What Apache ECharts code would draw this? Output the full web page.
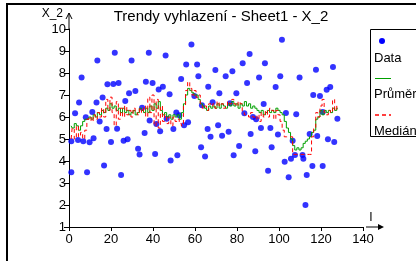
<!DOCTYPE html>
<html>
<head>
<meta charset="utf-8">
<script src="https://cdn.jsdelivr.net/npm/echarts@6/dist/echarts.min.js"></script>
<style>html,body{margin:0;padding:0;background:#fff}#c{width:416px;height:261px}</style>
</head>
<body>
<div id="c"></div>
<script>
// Data points (index I, value X_2)
var dataX = [1.1,1.1,2.9,4.3,4.8,6,6.8,8,8.6,9.8,11.1,11.7,13.1,13.5,14.6,16,16.7,17.9,18.3,20,21.1,21.8,22.9,23.6,24.8,26,26.8,27.9,28.6,29.8,31.6,32.9,33.6,34.8,36,36.6,38,38.4,39.8,41,41.6,42.7,43.4,44.7,46,46.5,47.9,48.4,49.7,51.1,51.6,52.5,53.4,54.8,55.8,56.7,58.3,59.7,61,61.6,62.9,63.3,64.8,66,66.3,67.4,68.4,69.7,71,71.6,72.9,74.6,76,76.7,77.8,78.4,79.7,81,82.7,83.5,84.8,86,86.5,87.6,88.7,89.1,90.5,91.4,92.7,93.3,94.8,95.9,96.5,98.4,99.5,100.6,101.4,102.7,103.3,104.6,105.7,106.5,107.6,108.2,109.8,111.2,111.6,112.6,113.2,114.6,115.9,116.3,117.6,118.2,119.5,120.8,120.8,122.7,123.3,124.4,125.7,126.3,127.8];
var dataY = [4.9,3.49,6.17,4.95,6.66,7.79,4.9,5.99,3.49,4.85,6.23,5.03,6.66,8.57,5.79,6.89,3.79,5.45,7.49,4.86,7.5,8.92,5.47,7.55,3.36,4.92,6.73,4.99,7.08,8.57,7.18,4.56,4.3,6.42,5.27,7.6,8.92,5.84,7.55,4.32,5.68,7.25,5.35,7.37,8.8,5.92,7.03,4.02,5.45,6.21,4.26,6.08,7.73,5.62,8.39,5.76,9.29,6.95,8.39,7.85,4.62,6.53,4.2,5.45,7.37,5.1,6.67,8.14,5.62,7.08,5.15,7.85,5.33,6.62,8.08,4.26,7.08,4.68,8.44,6.17,7.55,8.86,5.23,6.0,4.44,5.9,7.79,5.5,6.59,8.44,3.56,5.5,4.62,7.36,5.21,7.85,9.51,3.97,6.18,3.26,4.1,4.92,4.27,6.12,7.79,4.27,4.1,2.0,3.36,5.23,3.77,7.0,8.15,5.14,6.95,3.77,6.23,7.24,4.99,7.36,8.27,4.86,5.92];

// Smoothing trends (index 1..128)
var meanY = [5.6,5.5,5.7,5.6, 5.4,5.6,5.8,5.9, 5.9,6.0,5.9,6.1, 6.0,6.2,6.1,6.3, 6.2,6.4,6.3,6.6, 6.4,6.5,6.3,6.4,
  6.2,6.4,6.2,6.3, 6.1,6.2,6.3,6.1, 6.2,6.4,6.3,6.2, 6.4,6.2,6.5,6.3, 6.6,6.4,6.7,6.3, 6.1,6.2,6.0,6.1,
  5.9,6.1,6.0,6.1, 5.9,6.2,6.6,7.0, 7.3,7.2,7.1,7.0, 7.0,6.8,6.6,6.5, 6.4,6.3,6.5,6.4, 6.5,6.4,6.6,6.4,
  6.6,6.5,6.4,6.6, 6.5,6.7,6.5,6.6, 6.4,6.6,6.5,6.7, 6.5,6.6,6.4,6.5, 6.4,6.3,6.2,6.3, 6.1,6.2,6.3,6.2,
  6.3,6.2,6.4,6.3, 6.2,6.1,5.8,5.5, 5.3,5.0,4.7,4.5, 4.6,4.5,4.6,4.8, 4.9,5.0,5.1,5.3, 5.4,5.9,6.0,6.3,
  6.1,6.3,6.2,6.3, 6.2,6.4,6.3,6.4];
var medianY = [5.0,5.5,5.0,5.6, 5.1,5.3,5.0,5.4, 5.9,6.0,5.8,6.1, 5.9,6.2,6.0,6.4, 6.0,6.8,6.3,6.9, 6.2,5.6,6.7,5.9,
  6.4,6.0,6.5,6.1, 6.3,6.0,6.4,6.2, 6.1,6.4,6.2,6.5, 6.0,6.9,6.2,7.0, 5.6,6.8,5.5,6.5, 5.8,6.1,5.7,6.0,
  5.6,6.0,5.8,5.9, 5.7,5.6,6.5,7.2, 7.6,7.3,7.0,7.2, 6.9,7.0,6.6,6.4, 6.5,6.3,6.6,6.5, 6.6,6.4,6.7,6.5,
  6.6,6.4,6.5,6.7, 6.6,6.8,6.6,6.5, 6.7,6.6,6.2,6.1, 6.1,6.0,6.2,6.0, 5.9,6.1,5.8,6.2, 6.0,6.3,6.0,6.4,
  6.3,5.9,6.3,6.1, 5.8,5.4,5.1,5.1, 5.1,5.1,4.3,4.3, 4.3,4.3,4.3,4.3, 4.3,4.3,4.3,5.1, 5.5,6.2,6.0,6.5,
  6.8,6.2,6.1,6.3, 6.2,6.8,6.3,6.5];

var xTicks = [0,20,40,60,80,100,120,140];
var yTicks = [1,2,3,4,5,6,7,8,9,10];
var titleText = 'Trendy vyhlazení - Sheet1 - X_2';
var legendNames = ['Data','Průměr','Medián'];

var pts = dataX.map(function(x,i){return [x,dataY[i]];});
var meanPts = meanY.map(function(v,i){return [i+1,v];});
var medPts = medianY.map(function(v,i){return [i+1,v];});

var font = 'Liberation Sans, Arial, sans-serif';
var chart = echarts.init(document.getElementById('c'), null, {renderer:'canvas'});
chart.setOption({
  animation:false,
  backgroundColor:'#fff',
  title:{text:titleText,left:216,top:4,textAlign:'center',textStyle:{fontFamily:font,fontSize:15,fontWeight:'normal',color:'#000'}},
  grid:{left:69,top:29,width:294,height:198},
  xAxis:{type:'value',min:xTicks[0],max:xTicks[xTicks.length-1],interval:20,
    axisLine:{lineStyle:{color:'#000',width:1}},
    axisTick:{length:4,lineStyle:{color:'#000'}},
    axisLabel:{color:'#000',fontFamily:font,fontSize:13,margin:6},
    splitLine:{show:false}},
  yAxis:{type:'value',min:yTicks[0],max:yTicks[yTicks.length-1],interval:1,
    axisLine:{show:true,lineStyle:{color:'#000',width:1}},
    axisTick:{show:true,length:5,lineStyle:{color:'#000'}},
    axisLabel:{color:'#000',fontFamily:font,fontSize:13,margin:3},
    splitLine:{show:false}},
  series:[
    {name:legendNames[0],type:'scatter',data:pts,symbol:'circle',symbolSize:6,itemStyle:{color:'#0000ff'},z:2},
    {name:legendNames[1],type:'line',data:meanPts,step:'middle',symbol:'none',lineStyle:{color:'#00a000',width:1},z:3},
    {name:legendNames[2],type:'line',data:medPts,step:'middle',symbol:'none',lineStyle:{color:'#ff0000',width:1,type:[4,3]},z:4}
  ],
  graphic:[
    {type:'rect',shape:{x:7,y:4,width:500,height:400},style:{fill:'none',stroke:'#000',lineWidth:2},silent:true},
    // y axis arrow
    {type:'polyline',shape:{points:[[69,29],[69,13]]},style:{stroke:'#000',lineWidth:1}},
    {type:'polyline',shape:{points:[[66,19],[69,13],[72,19]]},style:{stroke:'#000',fill:'none',lineWidth:1}},
    {type:'text',style:{text:'X_2',x:63,y:14,align:'right',verticalAlign:'middle',font:'12px '+font,fill:'#000'}},
    // x axis arrow
    {type:'polyline',shape:{points:[[366,227],[380,227]]},style:{stroke:'#000',lineWidth:1}},
    {type:'polygon',shape:{points:[[378,224],[384,227],[378,230]]},style:{fill:'#000'}},
    {type:'text',style:{text:'I',x:371,y:218,align:'center',verticalAlign:'middle',font:'12px '+font,fill:'#000'}},
    // legend
    {type:'rect',shape:{x:370.5,y:29.5,width:60,height:107},style:{fill:'#fff',stroke:'#000',lineWidth:1},z:10},
    {type:'circle',shape:{cx:382,cy:41,r:3},style:{fill:'#0000ff'},z:11},
    {type:'text',style:{text:legendNames[0],x:374,y:58,verticalAlign:'middle',font:'13px '+font,fill:'#000'},z:11},
    {type:'line',shape:{x1:375,y1:78.5,x2:391,y2:78.5},style:{stroke:'#00a000',lineWidth:1},z:11},
    {type:'text',style:{text:legendNames[1],x:374,y:94,verticalAlign:'middle',font:'13px '+font,fill:'#000'},z:11},
    {type:'line',shape:{x1:375,y1:115,x2:391,y2:115},style:{stroke:'#ff0000',lineWidth:1.5,lineDash:[4,3]},z:11},
    {type:'text',style:{text:legendNames[2],x:374,y:131,verticalAlign:'middle',font:'13px '+font,fill:'#000'},z:11}
  ]
});
</script>
</body>
</html>
